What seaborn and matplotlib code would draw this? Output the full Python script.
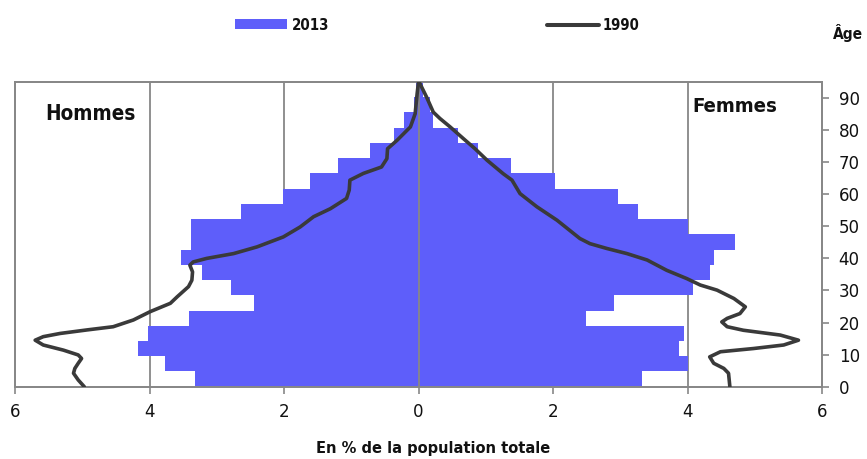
import numpy as np
import pandas as pd
import matplotlib
matplotlib.use("Agg")
import matplotlib.pyplot as plt
from matplotlib import font_manager
from matplotlib.font_manager import FontProperties
from matplotlib.patches import Rectangle
from matplotlib.lines import Line2D
import seaborn as sns

# ---------------- data ----------------
age_groups = ["0-4", "5-9", "10-14", "15-19", "20-24", "25-29", "30-34", "35-39",
              "40-44", "45-49", "50-54", "55-59", "60-64", "65-69", "70-74",
              "75-79", "80-84", "85-89", "90-94", "95+"]
men_2013 = [3.32, 3.77, 4.17, 4.02, 3.41, 2.45, 2.79, 3.22, 3.53, 3.38,
            3.38, 2.64, 2.02, 1.61, 1.20, 0.72, 0.36, 0.21, 0.07, 0.04]
women_2013 = [3.33, 4.01, 3.87, 3.95, 2.49, 2.90, 4.08, 4.33, 4.40, 4.70,
              4.01, 3.26, 2.97, 2.03, 1.37, 0.88, 0.59, 0.21, 0.17, 0.07]

men_1990_age = [0, 2.1, 4.2, 5.7, 7.3, 8.8, 9.9, 11.4, 13.0, 14.5, 15.6, 16.6,
                17.7, 18.7, 20.8, 23.4, 26.0, 28.0, 31.2, 33.2, 35.8, 37.9,
                38.9, 40.0, 41.5, 43.6, 46.7, 49.8, 53.0, 55.5, 58.7, 61.3,
                64.4, 66.5, 68.5, 71.1, 74.2, 76.8, 81.0, 85.1, 91.4, 95]
men_1990 = [4.97, 5.06, 5.13, 5.11, 5.06, 5.01, 5.06, 5.28, 5.58, 5.70, 5.58,
            5.33, 4.93, 4.54, 4.24, 3.99, 3.69, 3.59, 3.42, 3.37, 3.36, 3.40,
            3.35, 3.15, 2.75, 2.40, 2.01, 1.76, 1.56, 1.31, 1.07, 1.03, 1.02,
            0.82, 0.55, 0.47, 0.46, 0.32, 0.12, 0.05, 0.02, 0.0]

women_1990_age = [0, 4.2, 5.7, 7.3, 9.3, 10.9, 11.9, 13.0, 14.5, 16.1, 17.6,
                  18.7, 20.2, 21.3, 22.8, 24.9, 27.5, 30.1, 31.7, 33.7, 36.3,
                  39.5, 41.5, 43.1, 44.6, 46.2, 51.9, 56.1, 60.2, 64.4, 66.4,
                  70.6, 74.2, 77.3, 81.0, 83.6, 85.6, 90.3, 95]
women_1990 = [4.63, 4.61, 4.54, 4.39, 4.33, 4.49, 4.98, 5.43, 5.65, 5.38, 4.83,
              4.59, 4.51, 4.59, 4.78, 4.86, 4.69, 4.44, 4.19, 3.99, 3.69, 3.40,
              3.10, 2.80, 2.55, 2.40, 2.06, 1.76, 1.51, 1.39, 1.26, 1.02, 0.84,
              0.67, 0.47, 0.32, 0.22, 0.12, 0.01]

x_ticks = [-6, -4, -2, 0, 2, 4, 6]
x_tick_labels = ["6", "4", "2", "0", "2", "4", "6"]
y_ticks = [0, 10, 20, 30, 40, 50, 60, 70, 80, 90]

# ---------------- fonts ----------------
sns.set_style("white")
plt.rcParams["font.family"] = ["Liberation Sans", "DejaVu Sans"]


def pick_font(bold):
    narrow = []
    for f in font_manager.fontManager.ttflist:
        fn = f.fname.lower()
        if ("narrow" in fn or "condensed" in fn) and "sans" in fn and "mono" not in fn \
                and "oblique" not in fn and "italic" not in fn:
            is_bold = (f.weight in ("bold", 700) or "bold" in fn)
            if is_bold == bold:
                narrow.append(f.fname)
    # prefer Liberation Sans Narrow, then any
    narrow.sort(key=lambda p: (0 if "liberation" in p.lower() else 1, p))
    if narrow:
        return FontProperties(fname=narrow[0])
    return FontProperties(family=["Liberation Sans", "DejaVu Sans"],
                          weight="bold" if bold else "normal")


FP_B = pick_font(True)
FP_R = pick_font(False)

BAR = "#5E5EFA"
LINE = "#3a3a3a"
GRID = "#878787"

W, H = 867, 459
fig = plt.figure(figsize=(W / 100, H / 100), dpi=100)
fig.patch.set_facecolor("white")

x0, x1, y0, y1 = 15, 822, 82, 386.7
ax_bar = fig.add_axes([x0 / W, 1 - y1 / H, (x1 - x0) / W, (y1 - y0) / H])

df_m = pd.DataFrame({"group": age_groups, "value": -np.array(men_2013)})
df_w = pd.DataFrame({"group": age_groups, "value": np.array(women_2013)})
for d in (df_m, df_w):
    sns.barplot(data=d, x="value", y="group", order=age_groups, orient="h",
                color=BAR, saturation=1, width=1.0, errorbar=None,
                linewidth=0, ax=ax_bar, zorder=2)

ax_bar.set_ylim(-0.5, len(age_groups) - 0.5)
ax_bar.set_xlim(-6, 6)
ax_bar.set_yticks([])
ax_bar.set_ylabel("")
ax_bar.set_xlabel("")
for v in [-4, -2, 2, 4]:
    ax_bar.axvline(v, color=GRID, lw=1.3, zorder=0.5)
ax_bar.set_xticks(x_ticks)
ax_bar.set_xticklabels(x_tick_labels)
ax_bar.tick_params(axis="x", direction="out", length=5, width=1.2, color=GRID,
                   pad=7, bottom=True)

ax_line = ax_bar.twinx()
ax_line.set_zorder(ax_bar.get_zorder() + 1)
ax_line.patch.set_visible(False)
ax_line.axvline(0, color=GRID, lw=1.3, zorder=1)

sns.lineplot(x=-np.array(men_1990), y=men_1990_age, sort=False, estimator=None,
             color=LINE, linewidth=2.6, ax=ax_line, zorder=3, legend=False)
sns.lineplot(x=np.array(women_1990), y=women_1990_age, sort=False, estimator=None,
             color=LINE, linewidth=2.6, ax=ax_line, zorder=3, legend=False)
for l in ax_line.lines:
    l.set_solid_capstyle("round")
    l.set_solid_joinstyle("round")

ax_line.set_ylim(0, 95)
ax_line.set_xlim(-6, 6)
ax_line.set_yticks(y_ticks)
ax_line.set_yticklabels([str(t) for t in y_ticks])
ax_line.tick_params(axis="y", direction="out", length=5, width=1.2, color=GRID,
                    pad=7, right=True, left=False)
ax_line.set_ylabel("")
ax_line.set_xlabel("")

for a in (ax_bar, ax_line):
    for s in a.spines.values():
        s.set_color(GRID)
        s.set_linewidth(1.3)

tick_texts = list(ax_bar.get_xticklabels()) + list(ax_line.get_yticklabels())
for t in tick_texts:
    t.set_fontproperties(FP_R)
    t.set_fontsize(13.3)
    t.set_color("#111111")

# ---------------- texts ----------------
def ftext(x, y, s, **kw):
    return fig.text(x / W, 1 - y / H, s, fontproperties=FP_B, color="#111111", **kw)


t_h = ftext(45, 114, "Hommes", ha="left", va="center")
t_f = ftext(692, 106, "Femmes", ha="left", va="center")
t_a = ftext(833, 39, "Âge", ha="left", va="baseline")
t_x = ftext(433.5, 449, "En % de la population totale", ha="center", va="center")
t_13 = ftext(292, 25, "2013", ha="left", va="center")
t_90 = ftext(603, 25, "1990", ha="left", va="center")

fig.add_artist(Rectangle((235 / W, 1 - 29 / H), 52 / W, 10 / H,
                         transform=fig.transFigure, facecolor=BAR, edgecolor="none"))
fig.add_artist(Line2D([547 / W, 599 / W], [1 - 25 / H, 1 - 25 / H],
                      transform=fig.transFigure, color=LINE, lw=2.9,
                      solid_capstyle="round"))

# fit text widths to those of the reference
targets = [(t_h, 90, 20), (t_f, 85, 20), (t_a, 30, 16), (t_x, 233, 16),
           (t_13, 38, 16), (t_90, 37, 16)]
for t, _, size in targets:
    t.set_fontsize(size)
fig.canvas.draw()
r = fig.canvas.get_renderer()
for t, target, size in targets:
    w = t.get_window_extent(r).width
    t.set_fontsize(size * target / w)

fig.savefig("out.png", dpi=100)
